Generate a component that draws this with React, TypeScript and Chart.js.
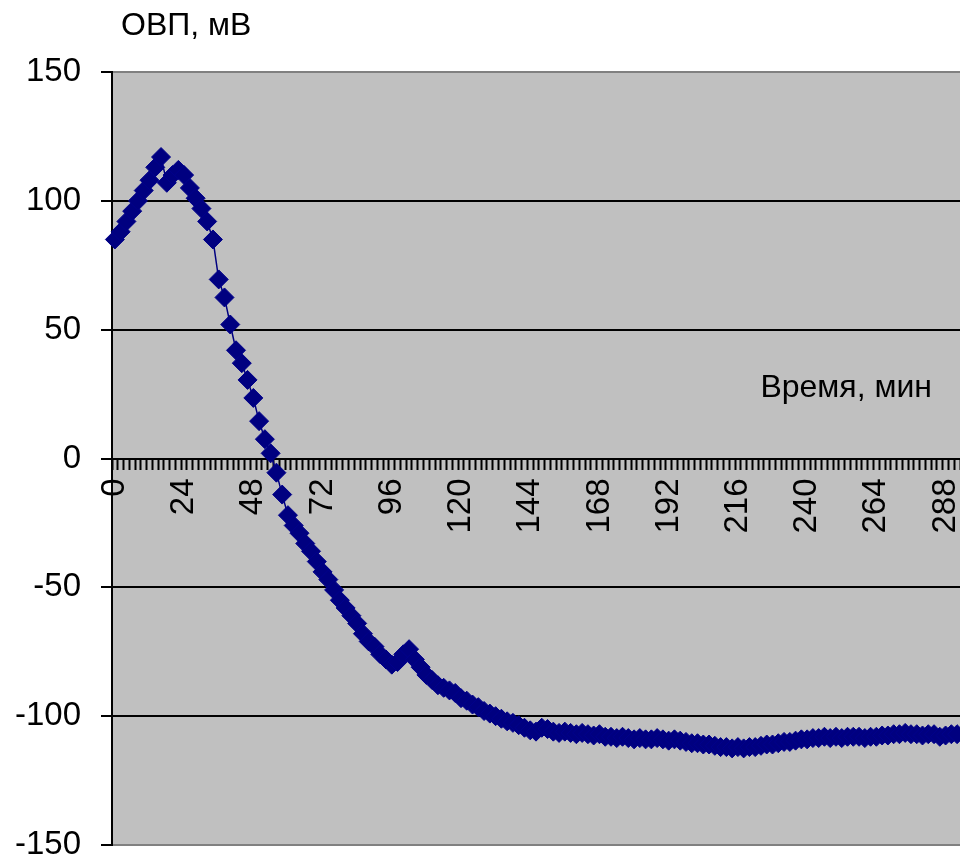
import React, { useEffect, useRef } from 'react';
import { Chart, registerables } from 'chart.js';

Chart.register(...registerables);

// Time, minutes (category axis, one category every 2 minutes)
const TIME_MIN: string[] = Array.from({ length: 147 }, (_, i) => String(i * 2));

// ORP values, mV
const ORP_MV: number[] = [
  85, 88, 92, 96, 100, 104, 108, 113, 117, 107,
  110, 112, 110, 105, 101, 97, 92, 85, 69.5, 62.5,
  52, 42, 37, 30.5, 23.5, 14.5, 7.5, 2, -5.5, -14,
  -22, -26, -29, -33, -36, -40, -44, -47, -51, -55,
  -58, -61, -64, -68, -71, -73, -76, -78, -80, -79,
  -76, -74, -78, -81, -84, -86, -88, -89, -90, -91,
  -93, -94, -95.5, -96.5, -98, -99, -100, -101, -102, -102.6,
  -103.5, -104.5, -105.5, -106, -104.5, -105, -106, -106.5, -106, -106.5,
  -107, -106.5, -107, -107.5, -107, -108, -108, -108.5, -108, -108.5,
  -109, -108.5, -109, -109, -108.5, -109, -109.5, -109, -109.5, -110,
  -110.5, -110.5, -111, -111, -111.5, -112, -112, -112.5, -112, -112.5,
  -112, -112, -111.5, -111, -111, -110.5, -110, -110, -109.5, -109,
  -109, -108.5, -108.5, -108, -108.5, -108, -108.5, -108, -108, -108,
  -108.5, -108, -108, -107.5, -107.5, -107, -107, -106.5, -107, -107,
  -107.5, -107, -107, -108, -107.5, -107, -107,
];

const Y_MIN = -150;
const Y_MAX = 150;
const Y_STEP = 50;
const LABEL_EVERY = 12; // every 24 minutes

const Y_TITLE = 'ОВП, мВ';
const X_TITLE = 'Время, мин';

const FONT = '"Liberation Sans", Arial, Helvetica, sans-serif';

const plotBg = {
  id: 'plotBg',
  beforeDraw(chart: any) {
    const { ctx, chartArea: a } = chart;
    ctx.save();
    ctx.fillStyle = '#C0C0C0';
    ctx.fillRect(a.left, a.top, a.right - a.left, a.bottom - a.top);
    ctx.restore();
  },
};

const titles = {
  id: 'titles',
  afterDraw(chart: any) {
    const { ctx, chartArea: a } = chart;
    const y0 = chart.scales.y.getPixelForValue(0);
    ctx.save();
    ctx.fillStyle = '#000';
    ctx.font = `32px ${FONT}`;
    ctx.textBaseline = 'alphabetic';
    ctx.textAlign = 'left';
    ctx.fillText(Y_TITLE, a.left + 9, a.top - 37);
    ctx.textAlign = 'right';
    ctx.fillText(X_TITLE, a.right - 28, y0 - 62);
    ctx.restore();
  },
};

export default function App() {
  const ref = useRef<HTMLCanvasElement | null>(null);

  useEffect(() => {
    if (!ref.current) return;
    const chart = new Chart(ref.current, {
      type: 'line',
      data: {
        labels: TIME_MIN,
        datasets: [
          {
            data: ORP_MV,
            borderColor: '#000080',
            borderWidth: 1.5,
            backgroundColor: '#000080',
            pointStyle: 'rectRot',
            pointRadius: 9.5,
            pointBorderWidth: 1,
            pointBorderColor: '#00008B',
            pointBackgroundColor: '#000080',
            tension: 0,
            fill: false,
          },
        ],
      },
      options: {
        animation: false,
        responsive: false,
        maintainAspectRatio: false,
        layout: { autoPadding: false, padding: { top: 72, bottom: 13, left: 0, right: 0 } },
        plugins: {
          legend: { display: false },
          tooltip: { enabled: false },
        },
        scales: {
          x: {
            type: 'category',
            position: { y: 0 } as any,
            offset: true,
            grid: {
              display: true,
              drawOnChartArea: false,
              drawTicks: true,
              tickLength: 10,
              tickWidth: 2,
              tickColor: '#000',
              offset: true,
            },
            border: { display: true, color: '#000', width: 2 },
            ticks: {
              autoSkip: false,
              minRotation: 90,
              maxRotation: 90,
              padding: 10,
              color: '#000',
              font: { family: FONT, size: 33 },
              callback: (_v: any, index: number) =>
                index % LABEL_EVERY === 0 ? TIME_MIN[index] : '',
            },
            afterFit: (scale: any) => {
              scale.paddingLeft = 0;
              scale.paddingRight = 0;
            },
          },
          y: {
            min: Y_MIN,
            max: Y_MAX,
            ticks: {
              stepSize: Y_STEP,
              padding: 20,
              color: '#000',
              font: { family: FONT, size: 33 },
            },
            grid: {
              color: (c: any) =>
                c.tick && Math.abs(c.tick.value) === Y_MAX ? '#808080' : '#000',
              lineWidth: 2,
              tickColor: '#000',
              tickLength: 11,
              tickWidth: 2,
            },
            border: { color: '#000', width: 2 },
            afterFit: (scale: any) => {
              scale.width = 112;
              scale.paddingTop = 0;
              scale.paddingBottom = 0;
            },
          },
        },
      },
      plugins: [plotBg, titles],
    });
    return () => chart.destroy();
  }, []);

  return (
    <div style={{ position: 'absolute', left: 0, top: 0, width: 960, height: 858, background: '#fff' }}>
      <canvas ref={ref} width={960} height={858} style={{ display: 'block' }} />
    </div>
  );
}
